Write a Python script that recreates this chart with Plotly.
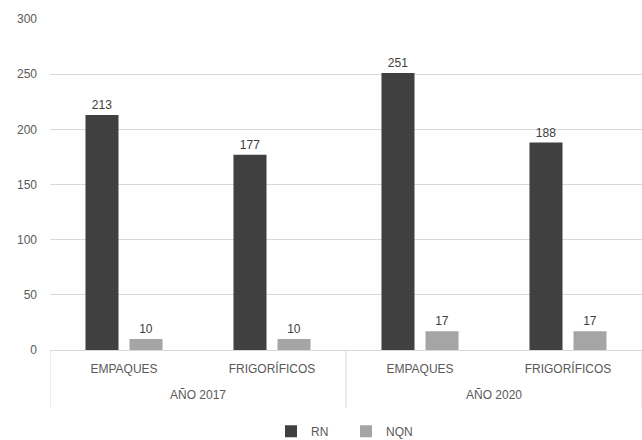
import plotly.graph_objects as go

years = ["AÑO 2017", "AÑO 2017", "AÑO 2020", "AÑO 2020"]
sectors = ["EMPAQUES", "FRIGORÍFICOS", "EMPAQUES", "FRIGORÍFICOS"]
rn_values = [213, 177, 251, 188]
nqn_values = [10, 10, 17, 17]
series_names = ["RN", "NQN"]
y_ticks = [0, 50, 100, 150, 200, 250, 300]

FONT = "Liberation Sans Narrow, Arial Narrow, Liberation Sans, Arial, sans-serif"
TXT = "#595959"
GRID = "#d9d9d9"

xpos = list(range(len(sectors)))

fig = go.Figure()
for name, vals, col in [(series_names[0], rn_values, "#404040"),
                        (series_names[1], nqn_values, "#a5a5a5")]:
    fig.add_trace(go.Bar(
        x=xpos, y=vals, name=name,
        marker=dict(color=col, line=dict(width=0)),
        text=[str(v) for v in vals], textposition="outside",
        textfont=dict(size=12, color="#404040", family=FONT),
        cliponaxis=False,
    ))

# outer (year) labels and group dividers
groups = []
for i, yr in enumerate(years):
    if not groups or groups[-1][0] != yr:
        groups.append([yr, i, i])
    else:
        groups[-1][2] = i
edges = set()
for yr, a, b in groups:
    fig.add_annotation(x=(a + b) / 2, y=-0.136, xref="x", yref="paper",
                       text=yr, showarrow=False, yanchor="middle",
                       font=dict(size=12, color=TXT, family=FONT))
    edges.add(a - 0.5)
    edges.add(b + 0.5)
for e in sorted(edges):
    fig.add_shape(type="line", x0=e, x1=e, y0=0, y1=-0.175, xref="x",
                  yref="paper", line=dict(color=GRID, width=1))

fig.update_layout(
    width=642, height=440,
    margin=dict(l=50, r=0, t=19, b=90),
    paper_bgcolor="white", plot_bgcolor="white",
    barmode="group", bargap=0.405, bargroupgap=0.25,
    font=dict(family=FONT, size=12, color=TXT),
    showlegend=True,
    legend=dict(orientation="h", x=0.5, xanchor="center",
                yref="container", y=0.02, yanchor="middle",
                entrywidth=30, entrywidthmode="pixels",
                font=dict(size=12, color=TXT), traceorder="normal"),
    xaxis=dict(range=[-0.5, len(sectors) - 0.5], tickvals=xpos,
               ticktext=sectors, showline=True, linecolor=GRID,
               linewidth=1, tickfont=dict(size=12, color=TXT),
               ticks="outside", ticklen=8, tickcolor="rgba(0,0,0,0)",
               showgrid=False, zeroline=False, automargin=False),
    yaxis=dict(range=[0, 300], tickvals=y_ticks, showgrid=True,
               gridcolor=GRID, gridwidth=1, zeroline=False,
               showline=False, tickfont=dict(size=12, color=TXT),
               ticklabelstandoff=12, automargin=False),
)

fig.write_html("out.html", config={"displayModeBar": False})
with open("out.html", "r", encoding="utf-8") as f:
    html = f.read()
html = html.replace("<head>", "<head><style>html,body{margin:0;padding:0;overflow:hidden;}</style>", 1)
with open("out.html", "w", encoding="utf-8") as f:
    f.write(html)
